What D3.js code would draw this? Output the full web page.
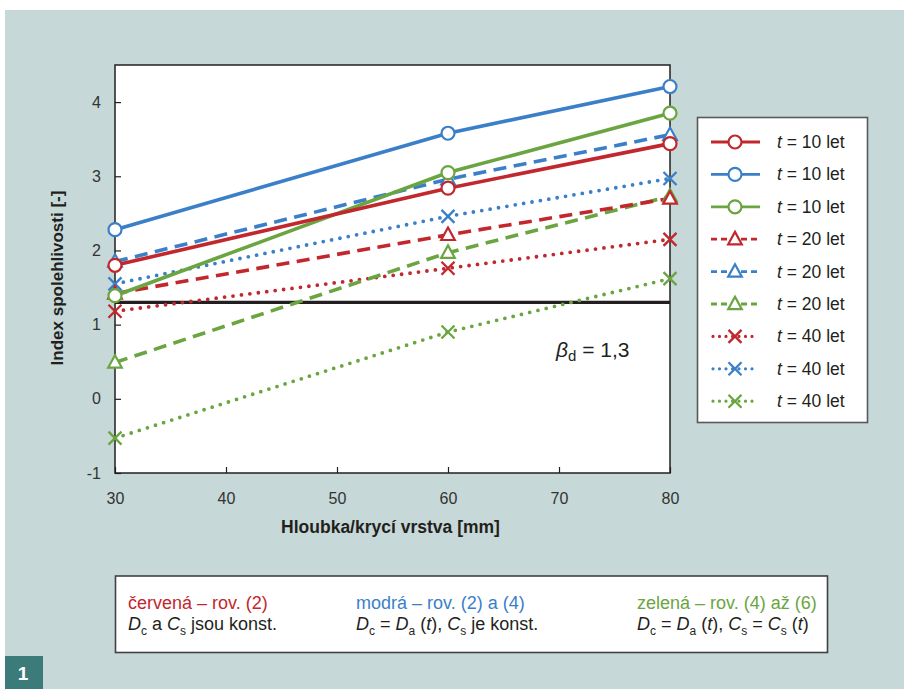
<!DOCTYPE html>
<html><head><meta charset="utf-8">
<script src="https://cdn.jsdelivr.net/npm/d3@7"></script>
<style>html,body{margin:0;padding:0;background:#fff;}svg{display:block;}</style>
</head><body>
<svg id="c" width="904" height="689"></svg>
<script>
const depths = [30, 60, 80];
const xTicks = [30, 40, 50, 60, 70, 80];
const yTicks = [-1, 0, 1, 2, 3, 4];
const red10 = [1.80, 2.84, 3.44];
const blue10 = [2.28, 3.58, 4.21];
const green10 = [1.39, 3.05, 3.85];
const red20 = [1.42, 2.21, 2.70];
const blue20 = [1.85, 2.96, 3.56];
const green20 = [0.49, 1.97, 2.73];
const red40 = [1.18, 1.76, 2.15];
const blue40 = [1.55, 2.46, 2.97];
const green40 = [-0.53, 0.90, 1.62];
const seriesLabels = ["10", "10", "10", "20", "20", "20", "40", "40", "40"];
const betaD = 1.3;

const RED = "#c1272d", BLUE = "#3a7fc8", GREEN = "#6aa541";
const series = [
  {v: red10, c: RED, s: "solid", m: "circle"},
  {v: blue10, c: BLUE, s: "solid", m: "circle"},
  {v: green10, c: GREEN, s: "solid", m: "circle"},
  {v: red20, c: RED, s: "dash", m: "tri"},
  {v: blue20, c: BLUE, s: "dash", m: "tri"},
  {v: green20, c: GREEN, s: "dash", m: "tri"},
  {v: red40, c: RED, s: "dot", m: "x"},
  {v: blue40, c: BLUE, s: "dot", m: "x"},
  {v: green40, c: GREEN, s: "dot", m: "x"}
];
series.forEach((d, i) => d.label = seriesLabels[i]);

const FONT = "'Liberation Sans', Arial, Helvetica, sans-serif";
const svg = d3.select("#c").style("font-family", FONT);
svg.append("rect").attr("x", 5).attr("y", 10).attr("width", 899).attr("height", 679).attr("fill", "#c6d8d7");

const L = 115, R = 670, T = 65, B = 473;
const x = d3.scaleLinear().domain([30, 80]).range([L, R]);
const y = d3.scaleLinear().domain([-1, 4.5]).range([B, T]);

svg.append("rect").attr("x", L).attr("y", T).attr("width", R - L).attr("height", B - T).attr("fill", "#fff");

// axes
const gx = svg.append("g").attr("transform", `translate(0,${B})`)
  .call(d3.axisBottom(x).tickValues(xTicks).tickSize(-6).tickPadding(20).tickFormat(d3.format("d")));
const gy = svg.append("g").attr("transform", `translate(${L},0)`)
  .call(d3.axisLeft(y).tickValues(yTicks).tickSize(-6).tickPadding(14).tickFormat(d => d));
[gx, gy].forEach(g => {
  g.select(".domain").remove();
  g.selectAll(".tick line").attr("stroke", "#231f20").attr("stroke-width", 1.2);
  g.selectAll(".tick text").attr("fill", "#333").style("font-size", "16px").style("font-family", FONT);
});
svg.append("rect").attr("x", L).attr("y", T).attr("width", R - L).attr("height", B - T)
  .attr("fill", "none").attr("stroke", "#231f20").attr("stroke-width", 1.5);

// reference line
svg.append("line").attr("x1", x(30)).attr("x2", x(80)).attr("y1", y(betaD)).attr("y2", y(betaD))
  .attr("stroke", "#231f20").attr("stroke-width", 3.2);

const dashFor = s => s === "dash" ? "13,7.5" : s === "dot" ? "0,8.5" : null;
const line = d3.line().x((d, i) => x(depths[i])).y(d => y(d));

function marker(g, type, cx, cy, color) {
  if (type === "circle") {
    g.append("circle").attr("cx", cx).attr("cy", cy).attr("r", 6.5)
      .attr("fill", "#fff").attr("stroke", color).attr("stroke-width", 2.2);
  } else if (type === "tri") {
    const h = 6.8;
    g.append("path").attr("d", `M${cx},${cy - h - 0.5}L${cx + h * 1.0},${cy + h * 0.75}L${cx - h * 1.0},${cy + h * 0.75}Z`)
      .attr("fill", "#fff").attr("stroke", color).attr("stroke-width", 2.2).attr("stroke-linejoin", "miter");
  } else {
    const h = 6.5;
    g.append("path").attr("d", `M${cx - h},${cy - h}L${cx + h},${cy + h}M${cx + h},${cy - h}L${cx - h},${cy + h}`)
      .attr("fill", "none").attr("stroke", color).attr("stroke-width", 2.3);
  }
}

const plot = svg.append("g");
series.slice().reverse().forEach(d => {
  plot.append("path").datum(d.v).attr("d", line).attr("fill", "none")
    .attr("stroke", d.c).attr("stroke-width", d.s === "dot" ? 3.8 : 3.6)
    .attr("stroke-dasharray", dashFor(d.s))
    .attr("stroke-linecap", d.s === "dot" ? "round" : "butt");
});
series.slice().reverse().forEach(d => {
  d.v.forEach((v, i) => marker(plot, d.m, x(depths[i]), y(v), d.c));
});

// beta label
const bt = svg.append("text").attr("x", 556).attr("y", 357).attr("fill", "#231f20").style("font-size", "21px");
bt.append("tspan").text("β").style("font-style", "italic");
bt.append("tspan").text("d").attr("dy", 4).style("font-size", "15px");
bt.append("tspan").text(" = 1,3").attr("dy", -4);

// axis titles
svg.append("text").attr("x", (L + R) / 2 - 2).attr("y", 533).attr("text-anchor", "middle")
  .style("font-size", "17.5px").style("font-weight", "bold").attr("fill", "#231f20").text("Hloubka/krycí vrstva [mm]");
svg.append("text").attr("transform", "translate(63,278) rotate(-90)").attr("text-anchor", "middle")
  .style("font-size", "17px").style("font-weight", "bold").attr("fill", "#231f20").text("Index spolehlivosti [-]");

// legend
const lg = svg.append("g");
lg.append("rect").attr("x", 697.5).attr("y", 117.5).attr("width", 170).attr("height", 305)
  .attr("fill", "#fff").attr("stroke", "#58595b").attr("stroke-width", 1.6);
series.forEach((d, i) => {
  const yy = 142 + i * 32.4;
  const shortDash = d.s === "dash" ? "6,4" : d.s === "dot" ? "0,6.5" : null;
  const x1 = d.s === "dot" ? 713 : 711, x2 = d.s === "dot" ? 757 : 760;
  lg.append("line").attr("x1", x1).attr("x2", x2).attr("y1", yy).attr("y2", yy)
    .attr("stroke", d.c).attr("stroke-width", d.s === "dot" ? 3.2 : 2.8)
    .attr("stroke-dasharray", shortDash).attr("stroke-linecap", d.s === "dot" ? "round" : "butt");
  marker(lg, d.m, 735, yy, d.c);
  const t = lg.append("text").attr("x", 777).attr("y", yy + 6).attr("fill", "#231f20").style("font-size", "17.5px");
  t.append("tspan").text("t").style("font-style", "italic");
  t.append("tspan").text(" = " + d.label + " let");
});

// bottom info box
const ib = svg.append("g");
ib.append("rect").attr("x", 115.5).attr("y", 576).attr("width", 712).attr("height", 76.5)
  .attr("fill", "#fff").attr("stroke", "#414042").attr("stroke-width", 1.6);
const FS = 18;
function sub(t, main, s) {
  t.append("tspan").text(main).style("font-style", "italic");
  t.append("tspan").text(s).attr("dy", 5).style("font-size", "12px");
  return t;
}
function txt(xx, yy, color) {
  return ib.append("text").attr("x", xx).attr("y", yy).attr("fill", color).style("font-size", FS + "px");
}
txt(128, 609, RED).text("červená – rov. (2)");
txt(356, 609, BLUE).text("modrá – rov. (2) a (4)");
txt(637, 609, GREEN).text("zelená – rov. (4) až (6)");

let t1 = txt(128, 630, "#231f20");
sub(t1, "D", "c");
t1.append("tspan").text(" a ").attr("dy", -5);
sub(t1, "C", "s");
t1.append("tspan").text(" jsou konst.").attr("dy", -5);

let t2 = txt(356, 630, "#231f20");
sub(t2, "D", "c");
t2.append("tspan").text(" = ").attr("dy", -5);
sub(t2, "D", "a");
t2.append("tspan").text(" (").attr("dy", -5);
t2.append("tspan").text("t").style("font-style", "italic");
t2.append("tspan").text("), ");
sub(t2, "C", "s");
t2.append("tspan").text(" je konst.").attr("dy", -5);

let t3 = txt(637, 630, "#231f20");
sub(t3, "D", "c");
t3.append("tspan").text(" = ").attr("dy", -5);
sub(t3, "D", "a");
t3.append("tspan").text(" (").attr("dy", -5);
t3.append("tspan").text("t").style("font-style", "italic");
t3.append("tspan").text("), ");
sub(t3, "C", "s");
t3.append("tspan").text(" = ").attr("dy", -5);
sub(t3, "C", "s");
t3.append("tspan").text(" (").attr("dy", -5);
t3.append("tspan").text("t").style("font-style", "italic");
t3.append("tspan").text(")");

// figure number
svg.append("rect").attr("x", 5).attr("y", 656).attr("width", 38).attr("height", 33).attr("fill", "#3b7c7a");
svg.append("text").attr("x", 23).attr("y", 680).attr("text-anchor", "middle").attr("fill", "#fff")
  .style("font-size", "19px").style("font-weight", "bold").text("1");
</script>
</body></html>
